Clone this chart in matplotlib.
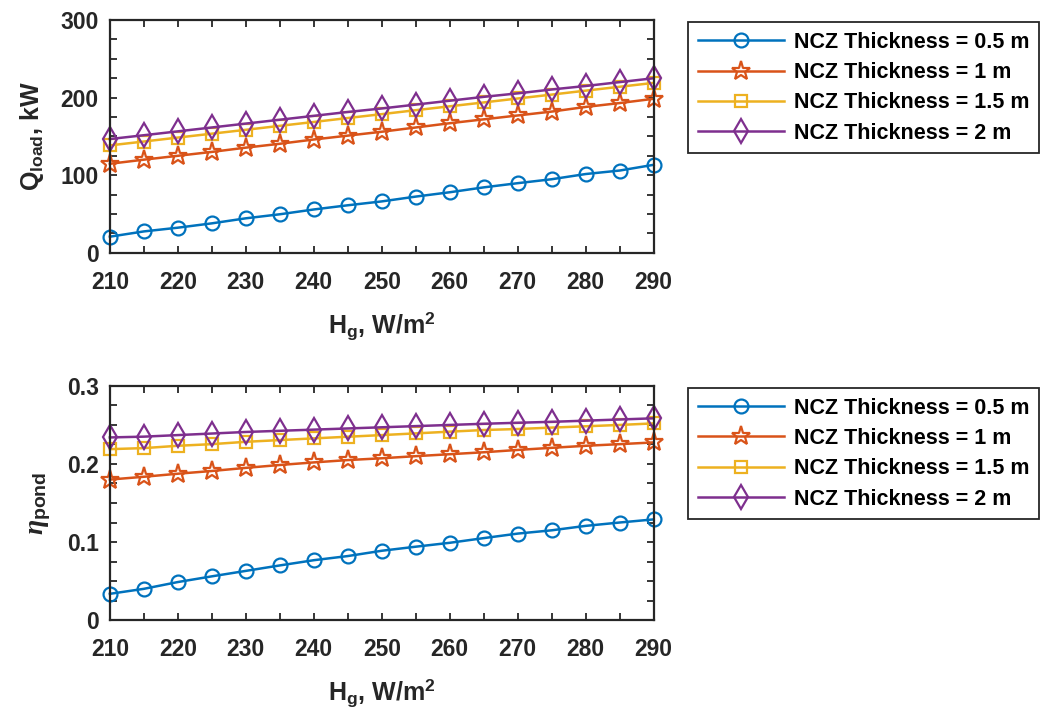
import numpy as np
import matplotlib
matplotlib.use("Agg")
import matplotlib.pyplot as plt
from matplotlib.ticker import MultipleLocator, FuncFormatter

plt.rcParams["font.family"] = ["Liberation Sans", "DejaVu Sans"]
plt.rcParams["font.weight"] = "bold"
plt.rcParams["axes.labelweight"] = "bold"
plt.rcParams["mathtext.fontset"] = "custom"
plt.rcParams["mathtext.rm"] = "Liberation Sans:bold"
plt.rcParams["mathtext.bf"] = "Liberation Sans:bold"
plt.rcParams["mathtext.it"] = "Liberation Serif:italic"

# Data.
hg = [210, 215, 220, 225, 230, 235, 240, 245, 250, 255, 260, 265, 270, 275,
      280, 285, 290]

labels = ["NCZ Thickness = 0.5 m", "NCZ Thickness = 1 m",
          "NCZ Thickness = 1.5 m", "NCZ Thickness = 2 m"]

q_05 = [20.7, 27.5, 32.3, 37.9, 44.4, 49.6, 55.8, 61.2, 66.2, 72.4, 78.0,
        84.3, 89.7, 94.8, 101.5, 106.0, 113.4]
q_10 = [114.7, 120.0, 125.0, 130.0, 135.5, 140.5, 146.0, 151.0, 156.0,
        161.5, 167.0, 172.0, 177.0, 182.0, 188.0, 193.0, 198.5]
q_15 = [138.4, 143.4, 148.5, 153.5, 158.5, 163.6, 168.6, 173.7, 178.7,
        183.8, 188.8, 193.8, 198.9, 203.9, 209.0, 214.0, 219.0]
q_20 = [146.6, 151.5, 156.5, 161.5, 166.5, 171.5, 176.5, 181.5, 186.0,
        191.0, 196.0, 201.0, 205.5, 210.5, 215.0, 220.0, 225.0]

eta_05 = [0.0336, 0.0400, 0.0487, 0.0560, 0.0630, 0.0700, 0.0767, 0.0820,
          0.0888, 0.0940, 0.0990, 0.1050, 0.1108, 0.1150, 0.1207, 0.1250,
          0.1290]
eta_10 = [0.1800, 0.1836, 0.1875, 0.1910, 0.1950, 0.1987, 0.2020, 0.2050,
          0.2073, 0.2100, 0.2125, 0.2150, 0.2180, 0.2207, 0.2233, 0.2254,
          0.2276]
eta_15 = [0.2190, 0.2203, 0.2233, 0.2254, 0.2284, 0.2306, 0.2328, 0.2349,
          0.2370, 0.2392, 0.2414, 0.2435, 0.2448, 0.2466, 0.2483, 0.2500,
          0.2520]
eta_20 = [0.2340, 0.2350, 0.2370, 0.2390, 0.2410, 0.2425, 0.2440, 0.2455,
          0.2470, 0.2485, 0.2500, 0.2515, 0.2528, 0.2540, 0.2555, 0.2570,
          0.2585]

colors = ["#0072BD", "#D95319", "#EDB120", "#7E2F8E"]
markers = ["o", "*", "s", "d"]
msizes = [10, 14, 9, 12]
ink = "#262626"


def style_axes(ax, ymax, ymajor, yminor):
    ax.set_xlim(210, 290)
    ax.set_ylim(0, ymax)
    ax.xaxis.set_major_locator(MultipleLocator(10))
    ax.xaxis.set_minor_locator(MultipleLocator(5))
    ax.yaxis.set_major_locator(MultipleLocator(ymajor))
    ax.yaxis.set_minor_locator(MultipleLocator(yminor))
    ax.yaxis.set_major_formatter(FuncFormatter(lambda v, p: "%g" % round(v, 4)))
    ax.tick_params(which="both", direction="in", top=True, right=True,
                   labelsize=16.5, width=1.3, color=ink, labelcolor=ink,
                   length=5)
    ax.tick_params(axis="x", which="major", pad=13)
    ax.tick_params(axis="y", which="major", pad=8)
    for s in ax.spines.values():
        s.set_linewidth(1.6)
        s.set_color(ink)
    ax.set_xlabel(r"$\mathbf{H_g}$, W/m$^\mathbf{2}$",
                  fontsize=18, color=ink, labelpad=12)


fig = plt.figure(figsize=(10.46, 7.16), dpi=100)
ax1 = fig.add_axes([0.105, 0.647, 0.520, 0.325])
ax2 = fig.add_axes([0.105, 0.134, 0.520, 0.327])

for ax, series in [(ax1, [q_05, q_10, q_15, q_20]),
                   (ax2, [eta_05, eta_10, eta_15, eta_20])]:
    for ys, c, m, ms, lab in zip(series, colors, markers, msizes, labels):
        ax.plot(hg, ys, color=c, marker=m, ms=ms, mfc="none", mew=1.6,
                lw=1.8, label=lab, clip_on=False)

style_axes(ax1, 300, 100, 25)
style_axes(ax2, 0.3, 0.1, 0.025)
ax1.set_ylabel(r"$\mathbf{Q_{load}}$, kW", fontsize=18, color=ink,
               labelpad=10)
ax2.set_ylabel(r"$\eta_{\mathbf{pond}}$", fontsize=20, color=ink,
               labelpad=10)

for ax, top in [(ax1, 0.969), (ax2, 0.458)]:
    leg = ax.legend(loc="upper left", bbox_to_anchor=(0.658, top),
                    bbox_transform=fig.transFigure, fontsize=15.5,
                    fancybox=False, framealpha=1, edgecolor=ink,
                    handlelength=4.0, borderpad=0.45, labelspacing=0.43,
                    handletextpad=0.45, borderaxespad=0)
    leg.get_frame().set_linewidth(1.3)
    for t in leg.get_texts():
        t.set_fontweight("bold")

fig.savefig("out.png", dpi=100)
